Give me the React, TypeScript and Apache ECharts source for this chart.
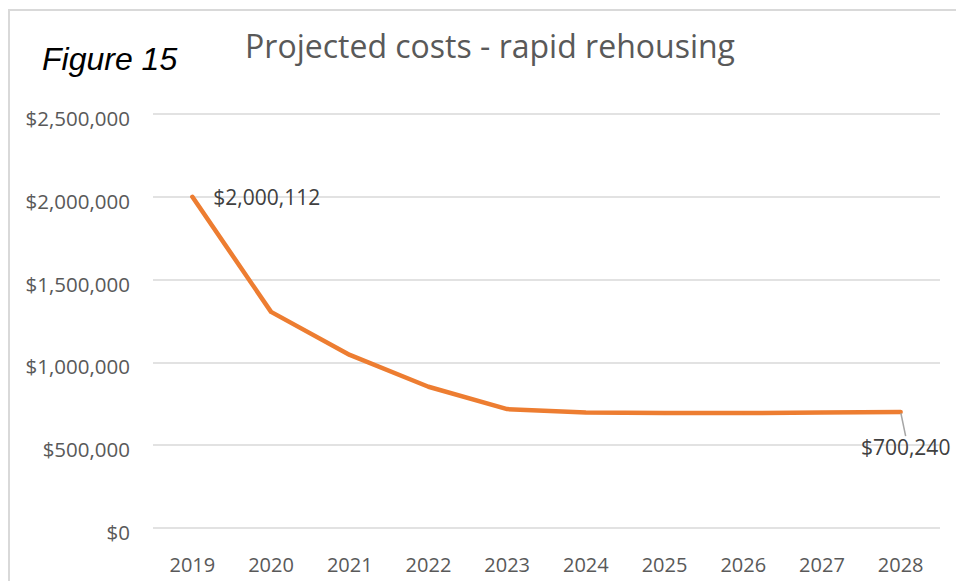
import React, { useEffect, useRef } from "react";
import * as echarts from "echarts";

const years = ["2019", "2020", "2021", "2022", "2023", "2024", "2025", "2026", "2027", "2028"];
const costs = [2000112, 1305000, 1045000, 853000, 718000, 697000, 694000, 694000, 698000, 700240];
const yTicks = { min: 0, max: 2500000, interval: 500000 };
const titleText = "Projected costs - rapid rehousing";
const figureText = "Figure 15";

const fmt = (v: number) => "$" + Math.round(v).toLocaleString("en-US");

export default function App() {
  const ref = useRef<HTMLDivElement>(null);
  useEffect(() => {
    if (!ref.current) return;
    const chart = echarts.init(ref.current, undefined, { renderer: "svg" });
    const last = costs.length - 1;
    chart.setOption({
      animation: false,
      backgroundColor: "#ffffff",
      title: {
        text: titleText,
        left: 485,
        top: 24,
        textAlign: "center",
        textStyle: {
          fontFamily: "Open Sans",
          fontSize: 32,
          fontWeight: "normal",
          color: "#595959",
        },
      },
      graphic: [
        {
          type: "rect",
          shape: { x: 9, y: 10, width: 1200, height: 1200 },
          style: { fill: "none", stroke: "#d9d9d9", lineWidth: 2 },
          silent: true,
        },
        {
          type: "text",
          left: 42,
          top: 43,
          style: {
            text: figureText,
            font: "italic 32px 'Liberation Sans', Arial, sans-serif",
            fill: "#000000",
          },
        },
      ],
      grid: { left: 153, right: 16, top: 114, bottom: 53, containLabel: false },
      xAxis: {
        type: "category",
        data: years,
        boundaryGap: true,
        axisLine: { show: false },
        axisTick: { show: false },
        axisLabel: {
          margin: 26,
          fontFamily: "Open Sans",
          fontSize: 20,
          color: "#595959",
        },
      },
      yAxis: {
        type: "value",
        min: yTicks.min,
        max: yTicks.max,
        interval: yTicks.interval,
        axisLine: { show: false },
        axisTick: { show: false },
        splitLine: { lineStyle: { color: "#d9d9d9", width: 1.5 } },
        axisLabel: {
          margin: 23,
          fontFamily: "Open Sans",
          fontSize: 20.5,
          color: "#595959",
          formatter: (v: number) => "{v|" + fmt(v) + "}",
          rich: {
            v: {
              fontFamily: "Open Sans",
              fontSize: 20.5,
              color: "#595959",
              padding: [8, 0, 0, 0],
            },
          },
        },
      },
      series: [
        {
          type: "line",
          data: costs.map((v, i) => {
            if (i === 0) {
              return {
                value: v,
                label: { show: true, position: "right", distance: 20, offset: [0, 4] },
              };
            }
            if (i === last) {
              return {
                value: v,
                label: { show: true, position: "bottom", distance: 4 },
                labelLine: { show: true, lineStyle: { color: "#a6a6a6", width: 1.5 } },
              };
            }
            return v;
          }),
          symbol: "circle",
          symbolSize: 2,
          itemStyle: { color: "#ED7D31" },
          lineStyle: { color: "#ED7D31", width: 4.5, cap: "round", join: "round" },
          label: {
            show: false,
            formatter: (p: any) => fmt(p.value),
            fontFamily: "Open Sans",
            fontSize: 21,
            color: "#404040",
          },
          labelLayout: (p: any) => (p.dataIndex === last ? { dx: 5, dy: 19 } : {}),
        },
      ],
    });
    return () => chart.dispose();
  }, []);
  return (
    <div
      ref={ref}
      style={{ position: "fixed", left: 0, top: 0, width: 956, height: 581 }}
    />
  );
}
